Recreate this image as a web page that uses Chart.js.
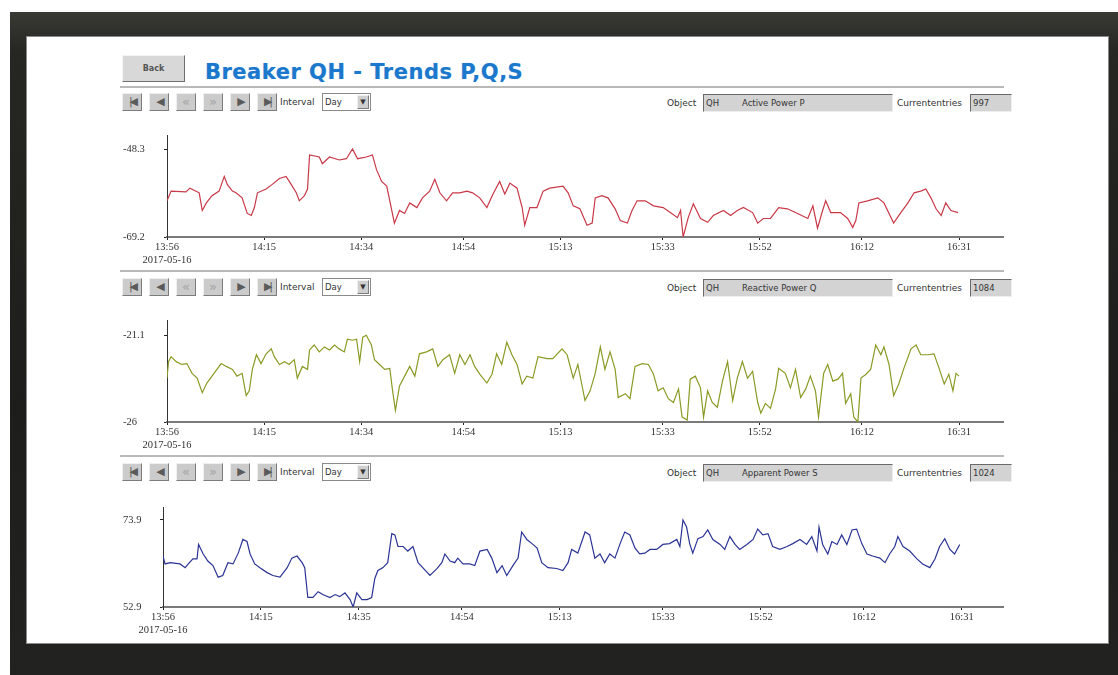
<!DOCTYPE html>
<html>
<head>
<meta charset="utf-8">
<script src="https://cdn.jsdelivr.net/npm/chart.js@4.4.0/dist/chart.umd.min.js"></script>
<style>
body{margin:0;width:1118px;height:675px;overflow:hidden;background:#fff;position:relative;font-family:"Liberation Sans",sans-serif}
#frame{position:absolute;left:10px;top:12px;width:1108px;height:663px;background:linear-gradient(180deg,#3a3a35 0%,#262622 6%,#1d1d1b 60%,#222220 100%)}
#screen{position:absolute;left:27px;top:37px;width:1081px;height:606px;background:#fff;box-shadow:0 0 0 1px #8a8a8a}
.abs{position:absolute}
#back{left:122px;top:55px;width:63px;height:27px;box-sizing:border-box;background:#d8d8d8;border:1px solid;border-color:#f4f4f4 #6f6f6f #6f6f6f #f4f4f4;font:bold 8px "DejaVu Sans",sans-serif;color:#555;text-align:center;line-height:25px}
#title{left:205px;top:60px;font:bold 21px "DejaVu Sans",sans-serif;color:#1b78cc;letter-spacing:0.5px;text-shadow:0 0 1px rgba(27,120,204,0.4)}
.rule{left:120px;width:884px;height:2px;background:#b9b9b9}
.btn{width:20px;height:18px;box-sizing:border-box;background:#cbcbcb;border:1px solid;border-color:#f0f0f0 #7c7c7c #7c7c7c #f0f0f0;font:11px "DejaVu Sans",sans-serif;color:#5a5a5a;text-align:center;line-height:16px;letter-spacing:-3px}
.btn.off{color:#a4a4a4;font-size:13px;letter-spacing:0}
.lbl{font:9px "DejaVu Sans",sans-serif;color:#333;line-height:18px;height:18px}
.sel{width:49px;height:18px;box-sizing:border-box;background:#fff;border:1px solid #8a8a8a}
.sel span{position:absolute;left:2px;top:0;font:8.5px "DejaVu Sans",sans-serif;color:#333;line-height:16px}
.sel i{position:absolute;right:1px;top:1px;width:12px;height:14px;box-sizing:border-box;background:#cfcfcf;border:1px solid;border-color:#f0f0f0 #7c7c7c #7c7c7c #f0f0f0;font:7px "DejaVu Sans",sans-serif;font-style:normal;color:#333;text-align:center;line-height:12px}
.fld{height:18px;box-sizing:border-box;background:#d3d3d3;border:1px solid;border-color:#6a6a6a #eeeeee #eeeeee #6a6a6a;font:8.5px "DejaVu Sans",sans-serif;color:#333;line-height:16px}
canvas{position:absolute}
</style>
</head>
<body>
<div id="frame"></div>
<div id="screen"></div>
<div id="back" class="abs">Back</div>
<div id="title" class="abs">Breaker QH - Trends P,Q,S</div>
<div class="abs rule" style="top:86px"></div>
<div class="abs rule" style="top:270px"></div>
<div class="abs rule" style="top:455px"></div>
<div id="bars"></div>
<canvas id="chartP" width="910" height="152" style="left:110px;top:125px"></canvas>
<canvas id="chartQ" width="910" height="152" style="left:110px;top:310px"></canvas>
<canvas id="chartS" width="910" height="150" style="left:110px;top:497px"></canvas>
<script>
// time axis: minutes after 13:56 on 2017-05-16
var tickMinutes = [0, 19, 38, 58, 77, 97, 116, 136, 155];
var pTickLabels = ['13:56', '14:15', '14:34', '14:54', '15:13', '15:33', '15:52', '16:12', '16:31'];
var qTickLabels = ['13:56', '14:15', '14:34', '14:54', '15:13', '15:33', '15:52', '16:12', '16:31'];
var sTickLabels = ['13:56', '14:15', '14:35', '14:54', '15:13', '15:33', '15:52', '16:12', '16:31'];
var dateLabel = '2017-05-16';

// toolbar texts
var objectNames = ['Active Power P', 'Reactive Power Q', 'Apparent Power S'];
var entryCounts = ['997', '1084', '1024'];

// y-axis labels (min, max)
var pRange = [-69.2, -48.3];
var qRange = [-26, -21.1];
var sRange = [52.9, 73.9];

// Active power P
var pTime = [0, 0.8, 3.7, 4.5, 6.3, 6.9, 7.7, 8.8, 10.2, 11.2,
  11.8, 12.8, 13.5, 14.7, 15.7, 16.5, 17.1, 17.7, 19.4, 20.6,
  22.0, 23.3, 24.3, 25.3, 25.9, 26.9, 27.5, 27.9, 29.8, 30.4,
  31.8, 33.7, 35.1, 36.3, 37.3, 39.0, 40.2, 41.0, 42.0, 43.0,
  43.6, 44.5, 45.5, 46.5, 47.5, 48.9, 50.0, 51.4, 52.4, 53.4,
  54.7, 55.9, 57.3, 58.7, 59.8, 61.2, 62.6, 63.8, 65.1, 66.1,
  67.1, 68.5, 69.5, 70.0, 71.0, 72.4, 73.6, 74.9, 77.5, 78.5,
  79.5, 80.8, 82.2, 83.2, 83.8, 85.1, 86.3, 87.7, 88.7, 90.1,
  91.0, 92.0, 93.6, 95.2, 97.1, 98.5, 99.9, 100.5, 101.0, 102.0,
  103.0, 104.4, 105.8, 106.9, 108.9, 110.3, 111.6, 112.8, 114.6, 115.6,
  116.7, 118.1, 119.7, 121.4, 123.4, 125.4, 126.4, 127.3, 128.3, 128.9,
  129.9, 131.8, 133.2, 134.2, 134.8, 135.4, 137.1, 139.1, 140.3, 141.7,
  142.2, 143.6, 145.0, 146.2, 147.5, 148.5, 149.5, 150.5, 151.5, 152.4,
  153.4, 154.8];
var pValue = [-60.6, -58.3, -58.5, -57.6, -58.7, -62.9, -61.1, -59.4, -58.3, -54.8,
  -56.7, -58.3, -58.7, -59.9, -63.6, -64.1, -62.2, -58.7, -57.8, -56.7,
  -55.3, -54.8, -56.7, -58.7, -60.6, -59.4, -57.8, -49.7, -50.2, -51.8,
  -50.2, -50.9, -50.6, -48.3, -50.6, -50.2, -49.7, -53.2, -56.0, -57.1,
  -60.6, -65.9, -62.9, -63.6, -61.1, -62.2, -59.9, -58.3, -55.5, -58.7,
  -60.6, -58.7, -58.7, -58.3, -58.7, -59.9, -62.2, -59.0, -56.0, -59.0,
  -56.4, -57.6, -62.2, -66.4, -62.2, -62.2, -58.3, -57.6, -57.1, -58.7,
  -61.8, -62.5, -66.4, -65.9, -59.9, -59.4, -59.9, -62.5, -65.3, -65.9,
  -62.9, -60.6, -60.6, -61.8, -62.2, -63.4, -64.6, -62.9, -69.2, -64.6,
  -61.3, -64.8, -65.7, -64.1, -62.9, -64.1, -62.9, -62.2, -63.4, -65.9,
  -64.8, -64.8, -62.2, -62.5, -63.6, -64.8, -61.8, -67.1, -62.9, -60.6,
  -63.4, -63.4, -64.8, -66.9, -65.3, -61.1, -60.6, -59.9, -61.1, -64.6,
  -65.9, -63.4, -61.1, -58.7, -58.3, -57.8, -59.9, -62.5, -64.1, -61.1,
  -62.9, -63.4];

// Reactive power Q
var qTime = [0, 0.3, 0.8, 1.8, 2.9, 3.9, 4.9, 5.9, 6.9, 7.8,
  9.2, 10.6, 11.6, 12.8, 13.7, 14.7, 15.5, 16.1, 16.7, 17.5,
  18.4, 19.4, 20.4, 21.0, 22.0, 23.0, 23.9, 24.9, 25.5, 26.5,
  27.5, 27.9, 28.8, 29.8, 30.8, 31.8, 32.8, 33.7, 34.7, 35.3,
  36.3, 37.1, 37.7, 38.3, 39.0, 40.0, 40.6, 41.6, 42.6, 43.6,
  44.1, 44.7, 45.5, 46.5, 47.5, 48.5, 49.4, 50.8, 52.0, 53.0,
  54.0, 55.3, 56.3, 57.3, 58.3, 59.3, 60.2, 61.2, 62.6, 63.6,
  64.5, 65.5, 66.5, 67.5, 68.5, 69.5, 70.4, 71.6, 72.6, 74.4,
  75.5, 77.3, 78.3, 79.5, 80.4, 81.8, 82.8, 83.8, 84.8, 85.7,
  86.7, 87.7, 88.3, 89.7, 90.6, 91.6, 93.0, 94.2, 95.2, 96.1,
  97.1, 98.1, 99.1, 100.1, 100.8, 101.8, 102.4, 103.4, 104.4, 105.0,
  105.8, 106.7, 107.7, 108.7, 109.7, 110.7, 111.6, 112.6, 113.6, 114.6,
  115.6, 116.2, 117.1, 118.1, 119.1, 119.7, 121.0, 122.0, 123.0, 124.0,
  125.0, 125.9, 126.9, 127.5, 128.5, 129.3, 130.3, 131.3, 132.2, 132.8,
  133.8, 134.4, 135.2, 135.8, 136.8, 137.7, 138.7, 139.7, 140.3, 141.3,
  142.2, 143.2, 144.2, 145.6, 146.6, 147.5, 148.9, 150.1, 151.1, 152.1,
  153.0, 153.8, 154.4, 155.0];
var qValue = [-23.52, -22.59, -22.31, -22.59, -22.75, -22.70, -23.25, -23.52, -24.35, -23.80,
  -23.25, -22.70, -22.86, -23.03, -23.41, -23.25, -24.51, -24.24, -23.03, -22.20,
  -22.70, -22.15, -21.87, -22.31, -22.75, -22.59, -22.75, -22.48, -23.52, -22.86,
  -23.03, -21.93, -21.65, -22.04, -21.76, -21.93, -21.65, -21.87, -22.04, -21.32,
  -21.38, -21.32, -22.59, -21.21, -21.10, -21.65, -22.48, -22.75, -23.03, -22.97,
  -24.13, -25.34, -23.96, -23.41, -22.86, -23.41, -22.15, -22.04, -21.87, -22.86,
  -22.48, -22.20, -23.25, -22.20, -22.75, -22.20, -22.86, -23.30, -23.80, -23.30,
  -22.15, -22.75, -21.49, -22.20, -22.75, -23.85, -23.41, -23.52, -22.31, -22.42,
  -22.42, -21.87, -22.20, -23.52, -22.75, -24.79, -24.24, -23.25, -21.76, -23.03,
  -22.04, -23.03, -24.62, -24.40, -24.68, -22.86, -22.70, -22.75, -23.30, -24.24,
  -24.07, -24.68, -24.90, -24.13, -25.72, -25.89, -23.58, -23.41, -24.07, -25.72,
  -24.24, -24.90, -25.17, -23.69, -22.59, -24.79, -23.52, -22.59, -23.52, -23.14,
  -24.90, -25.50, -24.95, -25.23, -24.13, -22.97, -23.25, -24.07, -23.03, -24.62,
  -24.13, -23.41, -24.24, -25.72, -23.25, -22.75, -23.69, -23.58, -23.25, -24.95,
  -24.40, -25.72, -26.00, -23.52, -23.30, -23.03, -21.65, -22.20, -21.76, -22.75,
  -24.51, -23.85, -22.97, -21.87, -21.65, -22.20, -22.20, -22.15, -22.97, -23.85,
  -23.30, -24.24, -23.25, -23.41];

// Apparent power S
var sTime = [0, 0.4, 1.4, 3.3, 4.3, 4.9, 5.8, 6.6, 6.9, 7.8,
  8.7, 9.7, 10.7, 11.6, 12.6, 13.6, 14.6, 15.5, 16.3, 16.9,
  17.8, 18.8, 20.2, 21.3, 22.7, 24.1, 25.0, 26.0, 27.0, 27.5,
  28.1, 29.1, 30.1, 31.0, 32.4, 33.4, 34.3, 35.3, 36.3, 36.9,
  37.6, 38.6, 39.6, 40.5, 41.1, 41.7, 42.7, 43.6, 44.4, 45.0,
  45.6, 46.6, 47.5, 48.5, 49.5, 50.4, 51.8, 53.2, 54.1, 54.7,
  55.7, 56.6, 57.2, 58.2, 59.5, 60.5, 61.5, 62.9, 63.8, 64.8,
  65.8, 66.7, 67.9, 68.9, 69.6, 70.6, 71.6, 72.6, 73.5, 74.7,
  76.4, 77.6, 78.6, 79.3, 80.5, 81.9, 82.8, 83.8, 84.8, 85.7,
  86.7, 87.7, 88.7, 89.6, 90.6, 91.6, 92.5, 93.5, 94.5, 95.8,
  97.0, 98.3, 99.7, 100.3, 100.9, 101.6, 102.2, 102.8, 103.8, 104.8,
  105.7, 106.7, 108.1, 109.0, 110.0, 111.0, 111.9, 113.3, 114.5, 115.4,
  116.4, 117.4, 118.3, 119.7, 121.1, 122.2, 123.6, 124.9, 125.9, 126.9,
  127.3, 128.0, 129.0, 129.8, 130.8, 131.7, 132.7, 133.7, 134.6, 135.6,
  136.6, 137.7, 139.1, 140.1, 141.0, 142.0, 142.6, 143.6, 144.9, 146.3,
  147.4, 148.8, 149.8, 150.7, 151.7, 152.7, 153.6, 154.6];
var sValue = [65.2, 63.3, 63.6, 63.3, 62.4, 63.3, 64.5, 64.5, 68.0, 65.7,
  64.0, 62.9, 60.1, 60.5, 63.6, 63.3, 65.9, 69.2, 68.7, 65.7,
  63.3, 62.4, 61.2, 60.5, 60.1, 62.4, 64.7, 65.2, 63.6, 62.4,
  55.2, 55.2, 56.6, 55.9, 55.2, 55.9, 55.4, 56.3, 54.7, 52.9,
  56.3, 54.7, 54.7, 55.2, 59.8, 61.7, 62.4, 63.6, 70.6, 70.3,
  67.5, 67.5, 66.4, 67.5, 63.6, 62.4, 60.5, 62.2, 63.6, 65.7,
  64.0, 63.6, 64.7, 63.3, 63.3, 62.9, 66.4, 66.8, 64.7, 61.2,
  62.9, 60.5, 62.9, 64.7, 71.0, 69.2, 68.2, 67.1, 63.6, 62.4,
  62.2, 61.7, 63.6, 66.8, 65.9, 71.0, 70.3, 64.7, 65.7, 63.6,
  65.7, 64.7, 68.2, 71.0, 70.3, 67.1, 65.7, 65.9, 66.8, 66.8,
  68.0, 68.2, 69.2, 67.5, 73.9, 72.2, 68.2, 65.9, 69.4, 69.9,
  71.5, 69.2, 68.0, 66.8, 69.9, 68.0, 66.8, 68.0, 69.2, 71.7,
  70.3, 70.6, 67.5, 66.8, 67.5, 68.2, 69.2, 68.0, 69.9, 66.4,
  72.2, 68.0, 65.7, 68.7, 68.0, 70.3, 68.0, 71.5, 71.7, 68.2,
  65.7, 65.2, 64.7, 63.6, 65.7, 67.5, 69.9, 67.5, 66.4, 64.5,
  63.3, 62.4, 64.5, 67.5, 69.4, 66.8, 65.7, 68.0];

// toolbars above each trend
var barTops = [93, 278, 463];
var html = '';
barTops.forEach(function (top, k) {
  var icons = ['|&#9664;', '&#9664;', '&laquo;', '&raquo;', '&#9654;', '&#9654;|'];
  icons.forEach(function (ic, i) {
    var off = (i === 2 || i === 3) ? ' off' : '';
    html += '<div class="abs btn' + off + '" style="left:' + (122 + i * 27) + 'px;top:' + top + 'px">' + ic + '</div>';
  });
  html += '<div class="abs lbl" style="left:280px;top:' + top + 'px">Interval</div>';
  html += '<div class="abs sel" style="left:322px;top:' + top + 'px"><span>Day</span><i>&#9660;</i></div>';
  html += '<div class="abs lbl" style="left:667px;top:' + (top + 1) + 'px">Object</div>';
  html += '<div class="abs fld" style="left:703px;top:' + (top + 1) + 'px;width:190px"><span style="position:absolute;left:2px">QH</span><span style="position:absolute;left:38px">' + objectNames[k] + '</span></div>';
  html += '<div class="abs lbl" style="left:897px;top:' + (top + 1) + 'px">Currententries</div>';
  html += '<div class="abs fld" style="left:970px;top:' + (top + 1) + 'px;width:42px;padding-left:2px">' + entryCounts[k] + '</div>';
});
document.getElementById('bars').innerHTML = html;

var tickFont = { family: '"Liberation Serif", serif', size: 10.5, lineHeight: 1.25 };

function trend(id, times, values, color, range, yTop, tickLabels, yWidth, xMax) {
  return new Chart(document.getElementById(id), {
    type: 'line',
    data: {
      datasets: [{
        data: times.map(function (t, i) { return { x: t, y: values[i] }; }),
        borderColor: color,
        borderWidth: 1.2,
        pointRadius: 0,
        tension: 0
      }]
    },
    options: {
      responsive: false,
      animation: false,
      layout: { padding: { left: 13, right: 17, top: 8, bottom: 0 } },
      plugins: { legend: { display: false }, tooltip: { enabled: false } },
      scales: {
        x: {
          type: 'linear', min: 0, max: xMax,
          afterBuildTicks: function (s) { s.ticks = tickMinutes.map(function (v) { return { value: v }; }); },
          afterFit: function (s) { s.height = 40; },
          ticks: {
            autoSkip: false, maxRotation: 0, padding: 1, color: '#333', font: tickFont,
            callback: function (v, i) { return i === 0 ? [tickLabels[0], dateLabel] : tickLabels[i]; }
          },
          grid: { drawOnChartArea: false, tickLength: 3, tickColor: '#222' },
          border: { color: '#7a7a7a', width: 2 }
        },
        y: {
          min: range[0], max: yTop,
          afterBuildTicks: function (s) { s.ticks = range.map(function (v) { return { value: v }; }); },
          afterFit: function (s) { s.width = yWidth; },
          ticks: { crossAlign: 'far', padding: 4, color: '#333', font: tickFont, callback: function (v) { return String(v); } },
          grid: { drawOnChartArea: false, tickLength: 3, tickColor: '#222' },
          border: { color: '#333', width: 1 }
        }
      }
    }
  });
}

trend('chartP', pTime, pValue, '#c93847', pRange, -45.1, pTickLabels, 44, 163.6);
trend('chartQ', qTime, qValue, '#8a9a24', qRange, -20.27, qTickLabels, 44, 163.6);
trend('chartS', sTime, sValue, '#2b3494', sRange, 76.9, sTickLabels, 40, 163.0);
</script>
</body>
</html>
